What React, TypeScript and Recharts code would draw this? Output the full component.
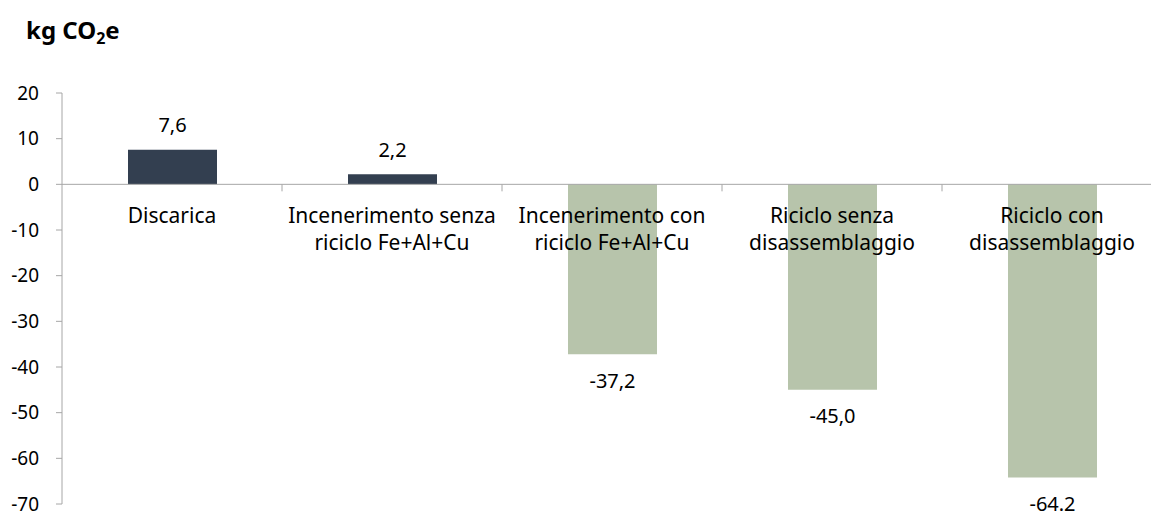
import { BarChart, Bar, XAxis, YAxis, Cell, LabelList, ReferenceLine } from "recharts";

const categories = [
    "Discarica",
    "Incenerimento senza\nriciclo Fe+Al+Cu",
    "Incenerimento con\nriciclo Fe+Al+Cu",
    "Riciclo senza\ndisassemblaggio",
    "Riciclo con\ndisassemblaggio",
];
const values = [7.6, 2.2, -37.2, -45.0, -64.2];
const valueLabels = ["7,6", "2,2", "-37,2", "-45,0", "-64.2"];
const yTicks = [20, 10, 0, -10, -20, -30, -40, -50, -60, -70];

const FONT = '"Noto Sans", sans-serif';
const DARK = "#333f50";
const GREEN = "#b7c4ab";
const AXIS = "#a6a6a6";

const chartData = categories.map((name, i) => ({ name, value: values[i] }));

// category names sit under the zero line, so they are drawn from the reference line's box
const CategoryLabels = (props: any) => {
    const vb = props.viewBox || {};
    const { x = 0, y = 0, width = 0 } = vb;
    const band = width / categories.length;
    return (
        <g>
            {categories.map((c, i) => {
                const cx = x + band * (i + 0.5);
                return (
                    <text key={`c-${i}`} x={cx} y={y + 39} textAnchor="middle" fontSize={21} fill="#000" fontFamily={FONT}>
                        {c.split("\n").map((line, j) => (
                            <tspan key={j} x={cx} dy={j === 0 ? 0 : 27}>
                                {line}
                            </tspan>
                        ))}
                    </text>
                );
            })}
            {categories.slice(1).map((_, i) => (
                <line key={`t-${i}`} x1={x + band * (i + 1)} x2={x + band * (i + 1)} y1={y} y2={y + 7} stroke={AXIS} />
            ))}
        </g>
    );
};

const ValueLabel = (props: any) => {
    const { x, y, width, height, index, value } = props;
    const top = Math.min(y, y + height);
    const bottom = Math.max(y, y + height);
    const ly = value >= 0 ? top - 25 : bottom + 26;
    return (
        <text x={x + width / 2} y={ly} textAnchor="middle" dominantBaseline="central" fontSize={20} fill="#000" fontFamily={FONT}>
            {valueLabels[index]}
        </text>
    );
};

const App = () => {
    return (
        <div style={{ position: "relative", width: 1151, height: 513, overflow: "hidden", background: "#fff" }}>
            <style>{`html,body{margin:0;padding:0;overflow:hidden;}`}</style>
            <div
                style={{
                    position: "absolute",
                    left: 26,
                    top: 14,
                    fontFamily: FONT,
                    fontWeight: 700,
                    fontSize: 24,
                    lineHeight: "32px",
                    color: "#000",
                }}
            >
                kg CO<span style={{ fontSize: 16, position: "relative", top: 5 }}>2</span>e
            </div>
            <BarChart
                width={1162}
                height={513}
                data={chartData}
                margin={{ top: 93, right: 0, left: 0, bottom: 9 }}
                style={{ fontFamily: FONT }}
            >
                <XAxis dataKey="name" hide />
                <YAxis
                    width={62}
                    domain={[-70, 20]}
                    ticks={yTicks}
                    interval={0}
                    tick={{ fill: "#000", fontSize: 19, fontFamily: FONT }}
                    tickSize={6}
                    tickMargin={17}
                    axisLine={{ stroke: AXIS }}
                    tickLine={{ stroke: AXIS }}
                />
                <Bar dataKey="value" barSize={89} isAnimationActive={false}>
                    {chartData.map((d, i) => (
                        <Cell key={`cell-${i}`} fill={d.value >= 0 ? DARK : GREEN} />
                    ))}
                    <LabelList dataKey="value" content={<ValueLabel />} />
                </Bar>
                <ReferenceLine y={0} stroke={AXIS} label={<CategoryLabels />} />
            </BarChart>
        </div>
    );
};

export default App;
